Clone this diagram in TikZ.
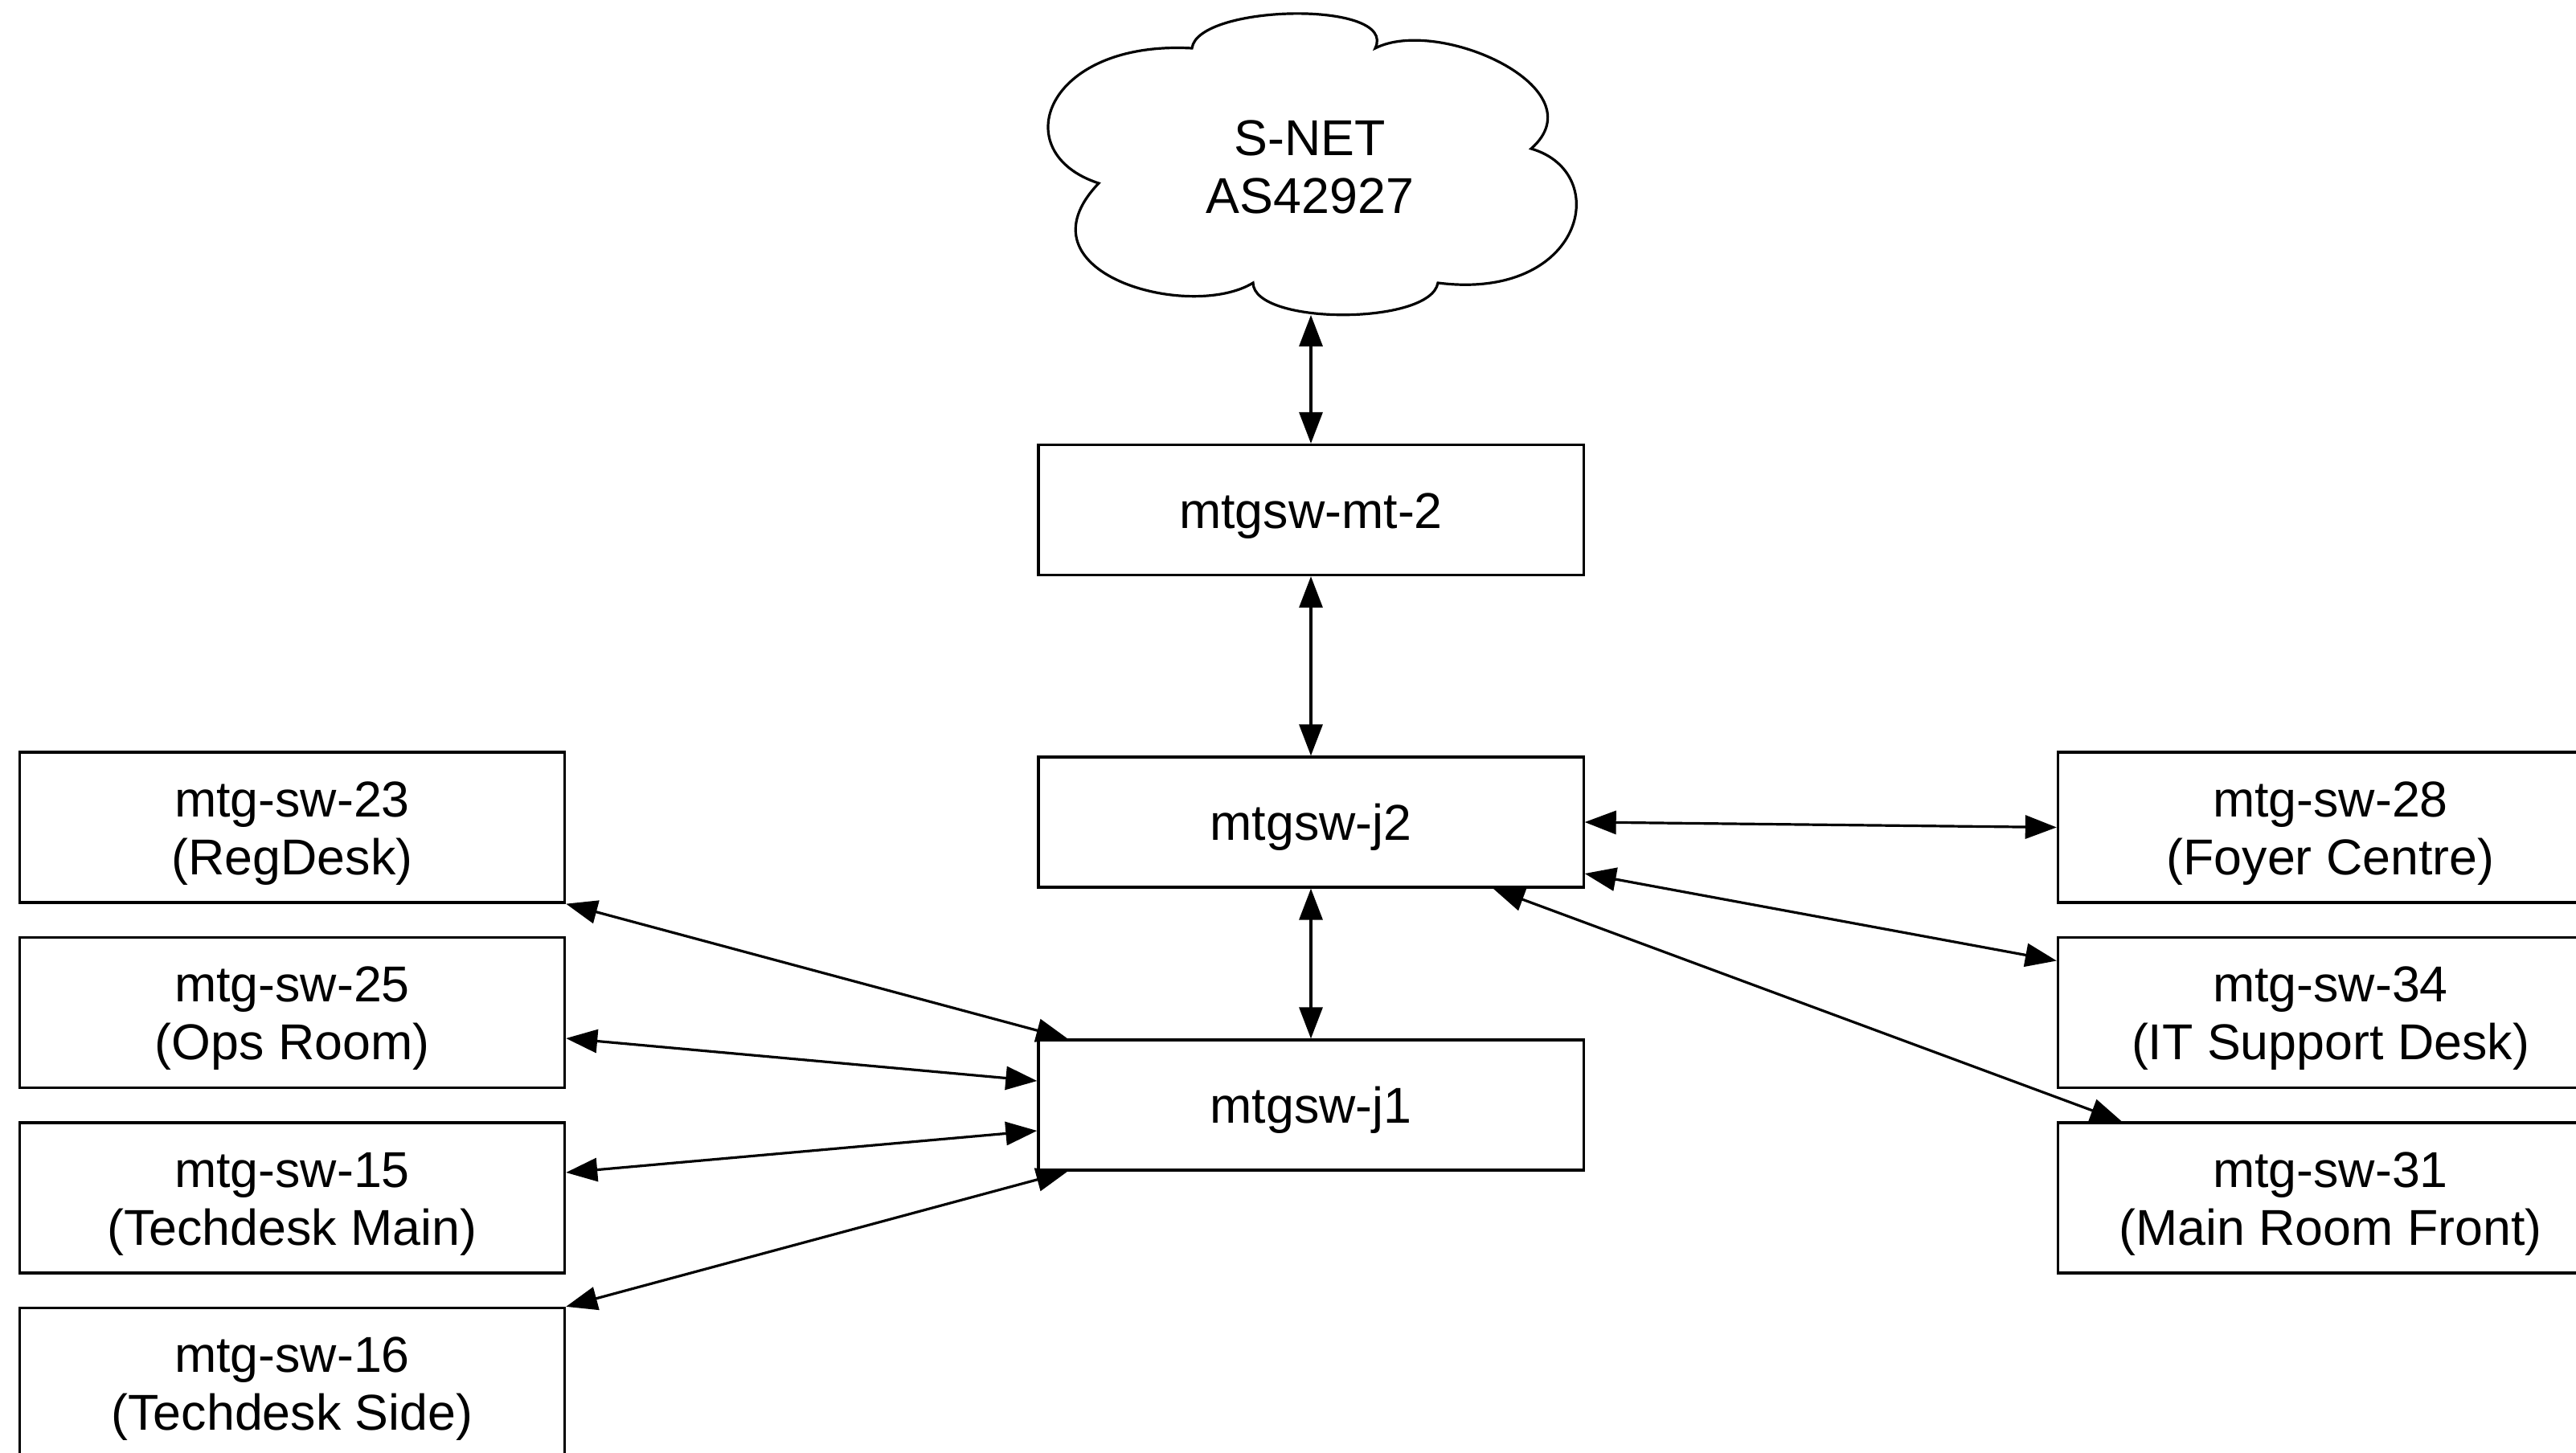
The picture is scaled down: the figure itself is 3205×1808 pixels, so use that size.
\documentclass[tikz,border=0pt]{standalone}
\usepackage{fontspec}
\setmainfont{Liberation Sans}
\usetikzlibrary{arrows.meta,calc}
\begin{document}
\begin{tikzpicture}[x=0.025cm, y=-0.025cm, line width=0.08cm,
  every node/.style={font=\fontsize{44.6pt}{51.2pt}\selectfont},
  sbox/.style={draw, fill=white, rectangle, inner sep=0pt, minimum width=16.95cm, minimum height=4.05cm, text height=1.125cm, text depth=0cm},
  dbox/.style={draw, fill=white, rectangle, inner sep=0pt, minimum width=16.95cm, minimum height=4.675cm, align=center, text height=2.925cm, text depth=0cm},
  link/.style={{Triangle[length=0.975cm,width=0.725cm]}-{Triangle[length=0.975cm,width=0.725cm]}}]
\useasboundingbox (0,0) rectangle (3205,1808);
\clip (0,0) rectangle (3205,1808);
\fill[white] (0,0) rectangle (3205,1808);

% cloud
\draw[fill=white] (1483,60) .. controls (1490,5) and (1740,0) .. (1711,60)
 .. controls (1790,20) and (1990,110) .. (1905,185)
 .. controls (2008,215) and (1970,375) .. (1789,352)
 .. controls (1780,405) and (1560,405) .. (1559,352)
 .. controls (1480,400) and (1260,340) .. (1367,228)
 .. controls (1250,190) and (1300,50) .. (1483,60) -- cycle;
\node[align=center, inner sep=0pt, text height=2.925cm, text depth=0cm] (snet) at (1630,207) {S-NET\\AS42927};
\coordinate (cloudb) at (1631,392);

% central switches
\node[sbox] (mt2) at (1631,634.5) {mtgsw-mt-2};
\node[sbox] (j2) at (1631,1023) {mtgsw-j2};
\node[sbox] (j1) at (1631,1375) {mtgsw-j1};

% left switches
\node[dbox] (sw23) at (363.5,1029.5) {mtg-sw-23\\(RegDesk)};
\node[dbox] (sw25) at (363.5,1260) {mtg-sw-25\\(Ops Room)};
\node[dbox] (sw15) at (363.5,1490.5) {mtg-sw-15\\(Techdesk Main)};
\node[dbox] (sw16) at (363.5,1721) {mtg-sw-16\\(Techdesk Side)};

% right switches
\node[dbox] (sw28) at (2899.5,1029.5) {mtg-sw-28\\(Foyer Centre)};
\node[dbox] (sw34) at (2899.5,1260) {mtg-sw-34\\(IT Support Desk)};
\node[dbox] (sw31) at (2899.5,1490.5) {mtg-sw-31\\(Main Room Front)};

% connectors
\draw[link] (cloudb) -- (mt2.north);
\draw[link] (mt2.south) -- (j2.north);
\draw[link] (j2.south) -- (j1.north);
\draw[link] (j2.east) -- (sw28.west);
\draw[link] ($(j2.east)+(0,64)$) -- ($(sw34.west)+(0,-64.5)$);
\draw[link] ($(j2.south east)+(-114,0)$) -- ($(sw31.north west)+(81,0)$);
\draw[link] (sw23.south east) -- ($(j1.north west)+(38,0)$);
\draw[link] ($(sw25.east)+(0,32)$) -- ($(j1.west)+(0,-30)$);
\draw[link] ($(sw15.east)+(0,-31.5)$) -- ($(j1.west)+(0,32)$);
\draw[link] (sw16.north east) -- ($(j1.south west)+(38,0)$);
\end{tikzpicture}
\end{document}
